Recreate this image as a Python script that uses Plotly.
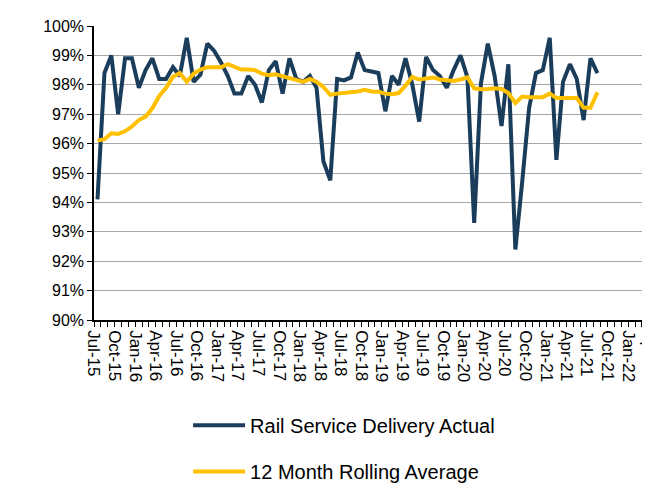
import pandas as pd
import plotly.graph_objects as go

# ---- data ----
start_month = "2015-07-01"
months = pd.date_range(start_month, periods=74, freq="MS")

rail_actual = [94.1, 98.4, 99.0, 97.0, 98.9, 98.9, 97.9, 98.5, 98.9, 98.2,
               98.2, 98.6, 98.3, 99.6, 98.1, 98.35, 99.4, 99.15, 98.75, 98.3,
               97.7, 97.7, 98.3, 98.0, 97.4, 98.5, 98.8, 97.7, 98.9, 98.2,
               98.1, 98.3, 97.9, 95.4, 94.75, 98.2, 98.15, 98.25, 99.1, 98.5,
               98.45, 98.4, 97.1, 98.3, 98.0, 98.9, 98.0, 96.75, 98.95, 98.5,
               98.3, 97.9, 98.5, 99.0, 98.25, 93.3, 98.05, 99.4, 98.3, 96.6,
               98.7, 92.4, 94.7, 97.2, 98.4, 98.5, 99.6, 95.45, 98.1, 98.7,
               98.2, 96.8, 98.9, 98.4]

rolling_avg = [96.1, 96.15, 96.35, 96.33, 96.42, 96.58, 96.8, 96.92, 97.2, 97.62,
               97.9, 98.27, 98.4, 98.1, 98.38, 98.52, 98.6, 98.6, 98.6, 98.7,
               98.6, 98.52, 98.52, 98.5, 98.38, 98.33, 98.36, 98.3, 98.25, 98.17,
               98.1, 98.2, 98.1, 97.93, 97.66, 97.7, 97.72, 97.73, 97.77, 97.83,
               97.77, 97.76, 97.7, 97.68, 97.72, 97.97, 98.27, 98.18, 98.2, 98.25,
               98.18, 98.14, 98.13, 98.18, 98.25, 97.88, 97.85, 97.86, 97.88, 97.86,
               97.72, 97.38, 97.6, 97.58, 97.58, 97.58, 97.7, 97.55, 97.55, 97.55,
               97.55, 97.22, 97.22, 97.74]

tick_months = pd.date_range("2015-07-01", "2022-04-01", freq="MS")
tick_labels = [d.strftime("%b-%y") if d.month in (1, 4, 7, 10) else "" for d in tick_months]

y_ticks = list(range(90, 101))
y_labels = [f"{v}%" for v in y_ticks]

NAVY = "#1b3d5c"
GOLD = "#ffc000"
FONT = "Liberation Sans, Arial, sans-serif"

fig = go.Figure()
fig.add_trace(go.Scatter(
    x=months, y=rail_actual, mode="lines", name="Rail Service Delivery Actual",
    line=dict(color=NAVY, width=4), xperiod="M1", xperiodalignment="middle",
    legend="legend"))
fig.add_trace(go.Scatter(
    x=months, y=rolling_avg, mode="lines", name="12 Month Rolling Average",
    line=dict(color=GOLD, width=4), xperiod="M1", xperiodalignment="middle",
    legend="legend2"))

fig.update_layout(
    width=650, height=483,
    margin=dict(l=86, r=0, t=18, b=166),
    paper_bgcolor="white", plot_bgcolor="white",
    font=dict(family=FONT, color="black", size=17),
    showlegend=True,
    legend=dict(x=0.168, y=-0.358, xanchor="left", yanchor="middle",
                font=dict(size=20), itemwidth=52, bgcolor="rgba(0,0,0,0)"),
    legend2=dict(x=0.168, y=-0.515, xanchor="left", yanchor="middle",
                 font=dict(size=20), itemwidth=52, bgcolor="rgba(0,0,0,0)"),
)

fig.update_xaxes(
    type="date",
    range=["2015-07-01", "2022-04-25"],
    tickmode="array", tickvals=tick_months, ticktext=tick_labels,
    tickangle=90, ticks="outside", ticklen=5, tickwidth=1.3, tickcolor="black",
    tickfont=dict(size=17, family=FONT, color="black"),
    ticklabeloverflow="allow",
    showline=True, linecolor="black", linewidth=1.5,
    showgrid=False, zeroline=False,
)
fig.update_yaxes(
    range=[90, 100],
    tickmode="array", tickvals=y_ticks, ticktext=y_labels,
    ticks="outside", ticklen=5, tickwidth=1.3, tickcolor="black",
    tickfont=dict(size=16, family=FONT, color="black"),
    showline=True, linecolor="black", linewidth=1.5,
    showgrid=True, gridcolor="#a6a6a6", gridwidth=1.3, zeroline=False,
)

fig.write_html("out.html")
